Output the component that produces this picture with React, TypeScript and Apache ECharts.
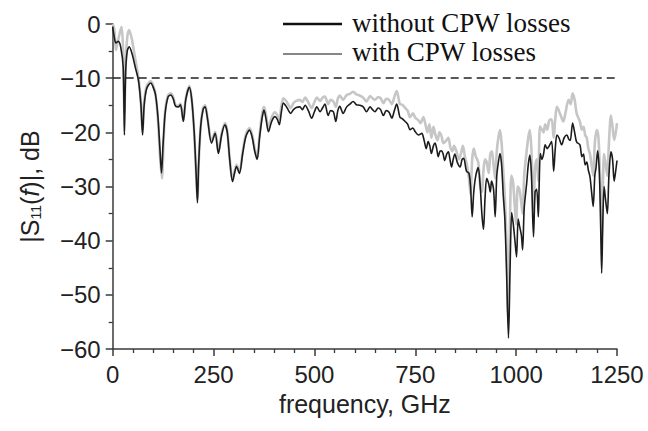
import React, { useEffect, useRef } from "react";
import * as echarts from "echarts";

// |S11(f)| in dB versus frequency in GHz
const withoutLosses: [number, number][] = [
  [0, -0.5], [4, -2.5], [8, -3.5], [14, -3.2], [20, -4.3], [26, -8], [29, -20.5], [32, -9], [36, -5], [41, -4.2],
  [48, -5.5], [56, -8], [64, -10.5], [70, -15], [74, -20.5], [78, -15], [84, -12], [94, -10.9], [100, -11.6], [106, -13],
  [112, -17], [117, -23], [121, -27.5], [125, -22], [130, -16.5], [137, -13.5], [144, -13.1], [150, -13.8], [156, -15.2], [163, -15.3],
  [168, -14.9], [175, -18], [181, -14], [190, -11.7], [196, -14], [202, -20], [207, -28], [210, -33], [213, -26], [218, -19],
  [224, -15.8], [229, -15.3], [235, -17.5], [245, -22], [254, -20.2], [262, -23.9], [270, -20.5], [278, -18.6], [284, -20], [290, -25],
  [297, -29.1], [302, -27.5], [307, -26.3], [314, -27.6], [322, -24], [330, -20.8], [339, -19.6], [346, -21], [352, -23.5], [358, -25],
  [364, -21], [370, -17.5], [375, -15.9], [380, -17.5], [386, -19.9], [394, -18], [402, -17.1], [408, -17.6], [413, -18.6], [418, -16.3],
  [423, -14.6], [430, -15.2], [436, -16], [441, -16.5], [448, -15.8], [455, -15.4], [464, -15.3], [470, -15.8], [477, -15.0], [485, -16],
  [493, -17.4], [500, -16.2], [506, -15.3], [514, -16.2], [520, -15.5], [526, -14.8], [534, -16.9], [540, -16], [547, -16.2], [553, -18.0],
  [558, -16], [563, -15.2], [571, -16.5], [580, -15.3], [588, -14.8], [596, -14.3], [604, -14.9], [612, -15], [621, -15.3], [629, -16.2],
  [638, -15.3], [644, -15.8], [650, -16.2], [658, -15.5], [664, -15.8], [671, -16.9], [678, -16], [685, -16.3], [692, -17.4], [698, -16],
  [704, -14.8], [712, -17.2], [718, -17.5], [725, -18.0], [731, -18.5], [737, -19.5], [744, -19.2], [750, -19.9], [758, -20.5], [766, -20.2],
  [772, -21.5], [777, -23], [782, -21.7], [786, -22.5], [790, -23.9], [795, -22.5], [799, -22], [803, -23], [807, -24.5], [811, -23.5],
  [815, -23.4], [819, -24], [823, -25.2], [828, -24], [832, -23.6], [836, -25], [840, -26.4], [844, -25], [848, -24], [854, -25.5],
  [861, -26.4], [866, -25], [870, -24.8], [877, -27.2], [883, -27.5], [887, -30], [891, -35.6], [895, -31], [900, -28], [906, -26.5],
  [911, -30], [915, -35], [919, -37.9], [923, -32], [927, -28.5], [932, -29.5], [936, -31], [939, -29], [944, -30.5], [948, -35.6],
  [952, -28], [956, -25.5], [960, -23.9], [964, -26], [968, -31.5], [972, -36], [976, -45], [981, -58], [985, -45], [989, -34.8],
  [993, -37], [997, -40], [1001, -43], [1005, -36], [1009, -37.5], [1013, -39], [1016, -41.7], [1020, -34], [1026, -29.5], [1030, -26],
  [1034, -24.2], [1038, -28], [1043, -39.3], [1047, -31], [1051, -30.5], [1055, -35.6], [1057, -30], [1060, -23.9], [1064, -25], [1068, -24],
  [1072, -22.3], [1077, -23], [1082, -22.5], [1088, -21.7], [1093, -27.2], [1097, -23], [1101, -20.5], [1106, -21], [1113, -22.3], [1119, -21],
  [1126, -20.5], [1130, -21.2], [1134, -21.5], [1140, -18.3], [1145, -20], [1150, -21.8], [1158, -22.3], [1163, -24.5], [1167, -24], [1171, -26],
  [1175, -25.5], [1179, -27], [1183, -28.2], [1187, -31], [1191, -33.7], [1195, -28], [1198, -26.5], [1202, -23.4], [1206, -27], [1209, -35],
  [1212, -46], [1215, -36], [1218, -30], [1221, -32], [1226, -35], [1230, -28], [1235, -23.6], [1239, -25], [1243, -29], [1247, -27],
  [1250, -25.2],
];

const withLosses: [number, number][] = [
  [0, 0], [4, -1], [8, -4.8], [12, -3.5], [18, -1.5], [22, -0.5], [26, -5], [29, -16.5], [32, -8], [36, -2.5],
  [41, -1.1], [48, -3], [56, -6.5], [64, -10], [70, -14.5], [74, -19.5], [78, -14.5], [84, -11.5], [94, -10.6], [100, -11.3],
  [106, -13], [112, -17.5], [117, -24], [122, -28.5], [126, -22], [130, -16], [137, -13.2], [144, -12.8], [150, -13.5], [156, -15],
  [163, -15.1], [168, -14.7], [175, -17.8], [181, -13.8], [190, -11.4], [196, -14], [202, -20], [207, -28], [210, -32.3], [213, -26],
  [218, -19], [224, -15.5], [229, -15], [235, -17.3], [245, -21.6], [254, -19.9], [262, -23.6], [270, -20.2], [278, -18.3], [284, -19.8],
  [290, -24.8], [297, -28.8], [302, -27.2], [307, -26], [314, -27.3], [322, -23.7], [330, -20.4], [339, -19.2], [346, -20.6], [352, -23],
  [358, -24.6], [364, -20.5], [370, -16.8], [375, -15.3], [380, -16.8], [386, -19.2], [394, -17.2], [402, -16.3], [408, -16.8], [413, -17.6],
  [418, -15.2], [423, -13.7], [430, -14.2], [436, -15], [441, -15.5], [448, -14.6], [455, -14.2], [464, -14.0], [470, -14.4], [477, -13.6],
  [485, -14.5], [493, -15.5], [500, -14.4], [506, -13.6], [514, -14.2], [520, -13.6], [526, -13.4], [534, -14.8], [540, -14], [547, -14.3],
  [553, -15.3], [558, -13.8], [563, -13.2], [571, -14], [580, -13.1], [588, -12.9], [596, -12.5], [604, -13], [612, -13.2], [621, -13.6],
  [629, -14.3], [638, -13.3], [644, -13.7], [650, -14], [658, -13.5], [664, -13.7], [671, -14.6], [678, -13.8], [685, -14], [692, -14.8],
  [698, -13.5], [704, -12.4], [712, -14.8], [718, -14.9], [725, -15.5], [731, -16], [737, -17.2], [744, -16.5], [750, -17.3], [758, -17.8],
  [763, -18.3], [770, -17.2], [775, -18.5], [780, -20], [785, -18.5], [790, -21], [795, -19], [800, -20.5], [805, -21.5], [810, -20],
  [815, -20.7], [820, -22], [827, -21.5], [832, -21], [837, -22.8], [842, -23.5], [846, -22.5], [852, -23.5], [858, -25], [863, -24],
  [868, -22.5], [873, -24.5], [878, -26], [883, -28.5], [887, -31.5], [891, -25], [895, -23], [900, -24.5], [906, -25.5], [911, -30],
  [915, -31], [919, -27], [923, -25], [927, -25.5], [932, -27.5], [936, -24], [940, -23.5], [944, -26], [948, -28.5], [952, -23.5],
  [956, -21], [960, -19.6], [964, -22], [968, -27], [972, -32], [976, -40], [980, -53.5], [984, -40], [988, -28], [992, -29],
  [996, -33], [1000, -37], [1004, -30], [1008, -30.5], [1012, -32.5], [1016, -35], [1020, -28], [1026, -23.5], [1030, -21], [1034, -19.6],
  [1038, -23.5], [1043, -34], [1047, -26.5], [1051, -25], [1055, -29], [1059, -18.9], [1064, -19.5], [1068, -20], [1072, -18.5], [1077, -19.5],
  [1082, -17.8], [1088, -17.6], [1093, -21], [1097, -17.5], [1101, -15.3], [1106, -16], [1111, -17], [1117, -18], [1122, -16.5], [1130, -14],
  [1135, -14.8], [1140, -12.8], [1145, -14], [1150, -16.5], [1158, -18], [1163, -19.5], [1167, -19], [1171, -20.5], [1175, -21], [1179, -23],
  [1183, -24], [1187, -26], [1191, -28], [1195, -22], [1200, -19.6], [1204, -21], [1208, -28], [1212, -40], [1215, -30], [1218, -24],
  [1222, -26], [1226, -28], [1230, -22], [1235, -16.9], [1239, -19], [1243, -21.4], [1247, -20], [1250, -18.3],
];

const thresholdDb = -10;
const xTicks = [0, 250, 500, 750, 1000, 1250];
const yTicks = [-60, -50, -40, -30, -20, -10, 0];
const legendLabels = ["without CPW losses", "with CPW losses"];

const SANS = "'Liberation Sans', Arial, Helvetica, sans-serif";
const SERIF = "'Liberation Serif', 'Times New Roman', serif";

export default function App() {
  const ref = useRef<HTMLDivElement>(null);

  useEffect(() => {
    if (!ref.current) return;
    const chart = echarts.init(ref.current, null, { renderer: "svg" });
    const axisColor = "#3a3a3a";
    chart.setOption({
      animation: false,
      backgroundColor: "#ffffff",
      grid: { left: 112.7, top: 24, width: 504.3, height: 325, containLabel: false },
      xAxis: {
        type: "value",
        min: xTicks[0],
        max: xTicks[xTicks.length - 1],
        interval: 250,
        name: "frequency, GHz",
        nameLocation: "middle",
        nameGap: 42,
        nameTextStyle: { fontFamily: SANS, fontSize: 25, color: "#222" },
        axisLine: { show: true, onZero: false, lineStyle: { color: axisColor, width: 1.5 } },
        axisTick: { show: true, inside: false, length: 7, lineStyle: { color: axisColor, width: 1.5 } },
        minorTick: { show: true, splitNumber: 5, length: 4, lineStyle: { color: axisColor, width: 1.3 } },
        axisLabel: {
          fontFamily: SANS,
          fontSize: 24,
          color: "#222",
          margin: 13,
          formatter: (v: number) => String(v),
        },
        splitLine: { show: false },
      },
      yAxis: {
        type: "value",
        min: yTicks[0],
        max: yTicks[yTicks.length - 1],
        interval: 10,
        name: "|S{sub|11}({it|f})|, dB",
        nameLocation: "middle",
        nameGap: 70,
        nameRotate: 90,
        nameTextStyle: {
          fontFamily: SANS,
          fontSize: 25,
          color: "#222",
          rich: {
            sub: { fontFamily: SANS, fontSize: 14, color: "#222", verticalAlign: "bottom", padding: [8, 0, 0, 0] },
            it: { fontFamily: SANS, fontSize: 25, fontStyle: "italic", color: "#222" },
          },
        },
        axisLine: { show: true, onZero: false, lineStyle: { color: axisColor, width: 1.5 } },
        axisTick: { show: true, inside: false, length: 7, lineStyle: { color: axisColor, width: 1.5 } },
        minorTick: { show: true, splitNumber: 2, length: 4, lineStyle: { color: axisColor, width: 1.3 } },
        axisLabel: {
          fontFamily: SANS,
          fontSize: 24,
          color: "#222",
          margin: 12,
          formatter: (v: number) => String(v).replace("-", "\u2212"),
        },
        splitLine: { show: false },
      },
      series: [
        {
          name: legendLabels[1],
          type: "line",
          data: withLosses,
          showSymbol: false,
          symbol: "none",
          smooth: 0.3,
          lineStyle: { color: "#c6c6c6", width: 2.6 },
          z: 2,
        },
        {
          name: legendLabels[0],
          type: "line",
          data: withoutLosses,
          showSymbol: false,
          symbol: "none",
          smooth: 0.3,
          lineStyle: { color: "#1c1c1c", width: 1.6 },
          z: 3,
          markLine: {
            silent: true,
            symbol: "none",
            label: { show: false },
            lineStyle: { color: "#222", width: 1.5, type: [8, 5] },
            data: [{ yAxis: thresholdDb }],
          },
        },
      ],
      graphic: [
        { type: "line", shape: { x1: 283, y1: 24, x2: 342, y2: 24 }, style: { stroke: "#111", lineWidth: 2.6 } },
        { type: "line", shape: { x1: 283, y1: 54, x2: 342, y2: 54 }, style: { stroke: "#111", lineWidth: 1.2 } },
        {
          type: "text",
          x: 352,
          y: 23,
          style: { text: legendLabels[0], font: `27px ${SERIF}`, fill: "#111", textVerticalAlign: "middle" },
        },
        {
          type: "text",
          x: 352,
          y: 52,
          style: { text: legendLabels[1], font: `27px ${SERIF}`, fill: "#111", textVerticalAlign: "middle" },
        },
      ],
    });
    return () => chart.dispose();
  }, []);

  return (
    <div
      ref={ref}
      style={{ position: "fixed", left: 0, top: 0, width: 648, height: 431, background: "#fff" }}
    />
  );
}
